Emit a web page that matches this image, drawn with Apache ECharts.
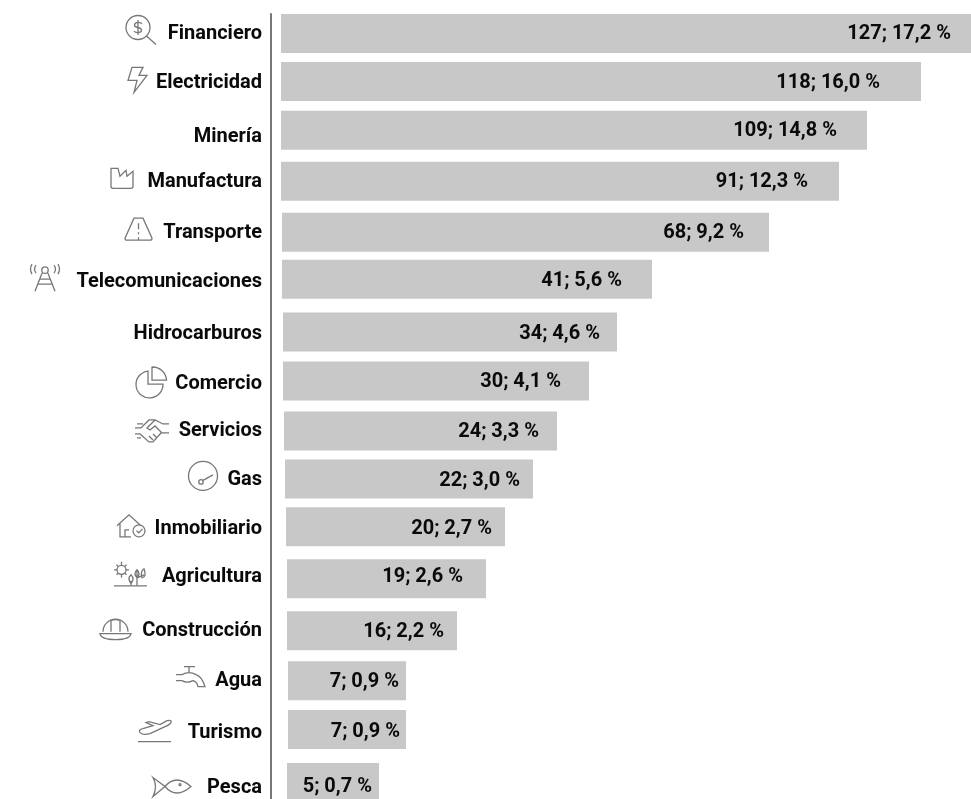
<!DOCTYPE html>
<html><head><meta charset="utf-8">
<style>html,body{margin:0;padding:0;background:#fff}#c{width:971px;height:799px}</style>
<script src="https://cdn.jsdelivr.net/npm/echarts@6/dist/echarts.min.js"></script>
</head><body><div id="c"></div>
<script>
const sectors = ['Financiero','Electricidad','Minería','Manufactura','Transporte','Telecomunicaciones','Hidrocarburos','Comercio','Servicios','Gas','Inmobiliario','Agricultura','Construcción','Agua','Turismo','Pesca'];
const counts = [127,118,109,91,68,41,34,30,24,22,20,19,16,7,7,5];
const shares = ['17,2','16,0','14,8','12,3','9,2','5,6','4,6','4,1','3,3','3,0','2,7','2,6','2,2','0,9','0,9','0,7'];
// The reference's bars are hand-laid and not proportional to the counts: start, end and row are read from the picture.
const barStart = [10,10,10,10,11,11,12,12,13,14,15,16,16,17,17,16];
const barEnd = [700,650,596,568,498,381,346,318,286,262,234,215,186,135,135,108];
const rowPos = [0,0.96,1.94,2.96,3.98,4.92,5.98,6.96,7.96,8.92,9.88,10.92,11.96,12.96,13.94,15];

// layout helpers (pixels relative to the row / bar end)
const labelInset = [20,41,30,31,25,30,17,28,18,13,13,23,13,7,6,7];
const nameDy = [1,2,7,1,1,3,2,3,0,1,2,-2,0,0,3,5];
const valueDy = [1,2,1,1,1,2,2,1,1,2,2,-2,1,1,2,4];
const icons = {
 'Financiero':{x:126,y:-18,d:'M24 12A12 12 0 1 1 0 12A12 12 0 1 1 24 12ZM20.5 20.5L30 29M16 8.5C15 6.5 9 6 8.5 9.5C8 13 16 11 15.5 15C15 18 9 17.5 8 15.5M12 4.5V19.5'},
 'Electricidad':{x:128,y:-14,d:'M4 0L15 0L11 8L19 8L6 25L9 13L0 13Z'},
 'Manufactura':{x:110,y:-14,d:'M1 1V19Q1 21 3 21H21Q23 21 23 19V4L17 9L16 3L10 9L8 1Z'},
 'Transporte':{x:125,y:-14,d:'M9 0H18L27 20Q27 22 25 22H2Q0 22 0 20ZM13.5 5V11M13.5 14V16M13.5 19V22'},
 'Telecomunicaciones':{x:29,y:-15,d:'M19.2 6A3.2 3.2 0 1 1 12.8 6A3.2 3.2 0 1 1 19.2 6ZM13 9L6 27M19 9L26 27M11 15H21M9 20H23M7 1Q4 5 7 9M3 0Q0 5 3 10M25 1Q28 5 25 9M29 0Q32 5 29 10'},
 'Comercio':{x:136,y:-14,d:'M12 4A13.5 13.5 0 1 0 27 17H12ZM16 0A14 14 0 0 1 30.5 13H16Z'},
 'Servicios':{x:135,y:-12,d:'M2 5H8M0 9H6L14 1H20L28 5H34M2 19H6M0 15H5L14 23H18L26 14H34M20 1L12 9L15 11L20 7L27 14M14 17L18 21M18 15L22 19'},
 'Gas':{x:188,y:-18,d:'M29.5 15A14.5 14.5 0 1 1 0.5 15A14.5 14.5 0 1 1 29.5 15ZM15.2 21A2.2 2.2 0 1 1 10.8 21A2.2 2.2 0 1 1 15.2 21ZM15 19.5L25 14'},
 'Inmobiliario':{x:116,y:-13,d:'M1 12L13 1L25 12M4 10V23H15M9 23V16H13M29 17A6 6 0 1 1 17 17A6 6 0 1 1 29 17ZM20.5 17L22.8 19L26.5 15'},
 'Agricultura':{x:114,y:-18,d:'M12 9A4.5 4.5 0 1 1 3 9A4.5 4.5 0 1 1 12 9ZM7.5 1V4M7.5 14V17M0 9H3M12 9H15M2.5 4L4.5 6M10.5 12L12.5 14M2.5 14L4.5 12M10.5 6L12.5 4M0 25H33M23 25V9M23 9Q19 13 23 17Q27 13 23 9ZM17 25V20M17 14Q13 18 17 23Q21 18 17 14ZM23 17L30 14M30 8Q26 11 28 17Q33 16 30 8Z'},
 'Construcción':{x:100,y:-13,d:'M3 14A12.5 12.5 0 0 1 28 14M11 14V3Q15.5 1 20 3V14M0 16H31Q30 22 15.5 22Q1 22 0 16Z'},
 'Agua':{x:176,y:-15,d:'M8 1H19M13 1V7M0 9H6Q13 5 20 9Q26 11 29 21H22Q21 16 17 15Q11 18 6 15H0'},
 'Turismo':{x:138,y:-10,d:'M2 13Q0 10 5 9L15 6L8 3L11 2L22 5L29 1Q34 0 33 3Q32 5 27 7L12 14Q5 16 2 13ZM0 22H33'},
 'Pesca':{x:152,y:-8,d:'M13 12Q24 -1 39 12Q24 25 13 12L1 3Q6 12 1 22L13 12M29 10.2A1 1 0 1 1 27 10.2A1 1 0 1 1 29 10.2Z'}
};
const BAR_H = 39, TEXT = '#0a0a0a', FONT = 'Roboto';

const rows = sectors.map((s, i) => [barStart[i], barEnd[i], rowPos[i], i]);

function renderRow(params, api) {
  const i = api.value(3);
  const a = api.coord([api.value(0), api.value(2)]);
  const b = api.coord([api.value(1), api.value(2)]);
  const axisX = api.coord([0, 0])[0];
  const name = sectors[i];
  const children = [
    {type:'rect', shape:{x:a[0], y:a[1]-BAR_H/2, width:b[0]-a[0], height:BAR_H}, style:{fill:'#c8c8c8'}},
    {type:'text', style:{text:counts[i]+'; '+shares[i]+' %', x:b[0]-labelInset[i], y:a[1]+valueDy[i], align:'right', verticalAlign:'middle',
       fill:TEXT, font:'700 20px '+FONT}},
    {type:'text', style:{text:name, x:axisX-9, y:a[1]+nameDy[i], align:'right', verticalAlign:'middle',
       fill:TEXT, font:'700 20px '+FONT}}
  ];
  const ic = icons[name];
  if (ic) children.push({type:'path', x:ic.x, y:a[1]+ic.y, shape:{pathData:ic.d},
       style:{fill:'none', stroke:'#777', lineWidth:1.3}});
  return {type:'group', children};
}

const chart = echarts.init(document.getElementById('c'), null, {renderer:'canvas'});
chart.setOption({
  animation:false,
  backgroundColor:'#fff',
  grid:{left:271, right:0, top:14, bottom:0},
  xAxis:{type:'value', min:0, max:700, show:false},
  yAxis:{type:'value', inverse:true, min:-0.39, max:15.33, position:'left',
    axisLine:{show:true, onZero:false, lineStyle:{color:'#777', width:2}},
    axisTick:{show:false}, axisLabel:{show:false}, splitLine:{show:false}},
  series:[{type:'custom', data:rows, clip:false, encode:{x:[0,1], y:2}, renderItem:renderRow}]
});
</script></body></html>
